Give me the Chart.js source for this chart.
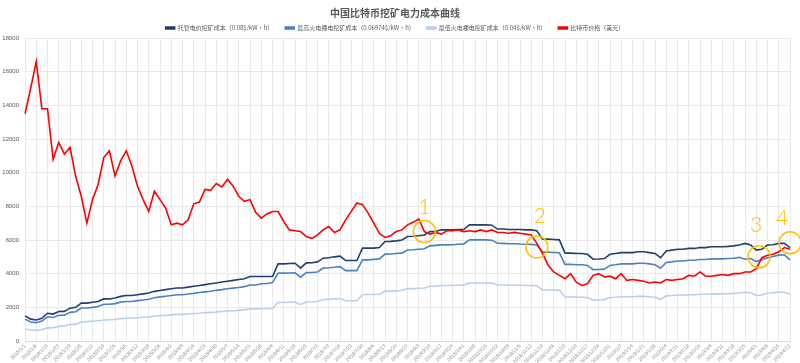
<!DOCTYPE html>
<html>
<head>
<meta charset="utf-8">
<script src="https://cdn.jsdelivr.net/npm/chart.js@4.4.1/dist/chart.umd.min.js"></script>
<style>
  html, body { margin: 0; padding: 0; background: #fff; }
  #wrap { width: 800px; height: 363px; }
</style>
</head>
<body>
<div id="wrap"><canvas id="chart" width="800" height="363"></canvas></div>
<script>
// weekly ticks, two samples per week (Mon / Thu)
const startDate = new Date(2018, 0, 1);
const weekCount = 68;

const seriesNames = [
  "托管电价挖矿成本（0.08$/kW·h）",
  "最高火电裸电挖矿成本（0.06974$/kW·h）",
  "最低火电裸电挖矿成本（0.04$/kW·h）",
  "比特币价格（美元）"
];

const hostedCost = [
  1490, 1300, 1250, 1350, 1650, 1600, 1750, 1760, 1950, 2000,
  2250, 2250, 2300, 2350, 2500, 2500, 2550, 2650, 2700, 2700,
  2750, 2800, 2850, 2950, 3000, 3050, 3100, 3150, 3150, 3200,
  3250, 3300, 3350, 3400, 3450, 3500, 3550, 3600, 3650, 3700,
  3830, 3830, 3830, 3830, 3830, 4580, 4580, 4600, 4620, 4330,
  4640, 4650, 4700, 4920, 4950, 5000, 5040, 4780, 4780, 4780,
  5520, 5520, 5520, 5550, 5910, 5920, 5950, 6000, 6210, 6220,
  6250, 6300, 6500, 6520, 6600, 6600, 6600, 6620, 6620, 6900,
  6900, 6900, 6900, 6880, 6650, 6650, 6620, 6620, 6620, 6600,
  6600, 6550, 6050, 6050, 6030, 6010, 5220, 5220, 5200, 5200,
  5150, 4860, 4870, 4900, 5150, 5200, 5250, 5250, 5250, 5300,
  5300, 5250, 5200, 4950, 5350, 5400, 5450, 5450, 5500, 5500,
  5550, 5550, 5600, 5600, 5600, 5620, 5650, 5700, 5800, 5710,
  5400, 5450, 5700, 5720, 5800, 5810, 5550
];

const highCoalCost = [
  1300, 1130, 1090, 1180, 1440, 1400, 1530, 1530, 1700, 1740,
  1960, 1960, 2000, 2050, 2180, 2180, 2220, 2310, 2350, 2350,
  2400, 2440, 2480, 2570, 2620, 2660, 2700, 2750, 2750, 2790,
  2830, 2880, 2920, 2960, 3010, 3050, 3100, 3140, 3180, 3230,
  3330, 3330, 3400, 3420, 3470, 4030, 4030, 4040, 4050, 3790,
  4060, 4070, 4100, 4330, 4350, 4380, 4420, 4180, 4180, 4180,
  4820, 4820, 4850, 4880, 5160, 5170, 5200, 5220, 5410, 5420,
  5450, 5480, 5650, 5680, 5710, 5710, 5720, 5750, 5770, 6010,
  6010, 6010, 6010, 5990, 5810, 5800, 5780, 5780, 5760, 5750,
  5740, 5700, 5280, 5280, 5260, 5240, 4550, 4550, 4530, 4530,
  4490, 4240, 4250, 4270, 4490, 4530, 4580, 4580, 4580, 4620,
  4620, 4580, 4530, 4320, 4660, 4700, 4750, 4750, 4800, 4800,
  4840, 4840, 4880, 4880, 4880, 4900, 4920, 4970, 4860, 4900,
  4720, 4820, 4950, 5020, 5100, 5120, 4820
];

const lowCoalCost = [
  710, 650, 630, 680, 780, 790, 870, 900, 980, 1000,
  1130, 1150, 1190, 1200, 1250, 1260, 1280, 1330, 1350, 1360,
  1380, 1410, 1430, 1480, 1500, 1520, 1550, 1580, 1580, 1600,
  1630, 1650, 1680, 1700, 1720, 1750, 1780, 1800, 1820, 1850,
  1900, 1910, 1920, 1930, 1940, 2290, 2290, 2300, 2310, 2170,
  2320, 2330, 2350, 2460, 2480, 2500, 2520, 2390, 2390, 2390,
  2760, 2760, 2760, 2780, 2960, 2960, 2980, 3000, 3110, 3110,
  3130, 3150, 3250, 3260, 3300, 3300, 3300, 3310, 3310, 3450,
  3450, 3450, 3450, 3440, 3330, 3330, 3310, 3310, 3310, 3300,
  3300, 3280, 3030, 3030, 3020, 3010, 2610, 2610, 2600, 2600,
  2580, 2430, 2440, 2450, 2580, 2600, 2630, 2630, 2630, 2650,
  2650, 2630, 2600, 2480, 2680, 2700, 2730, 2730, 2750, 2750,
  2780, 2780, 2800, 2800, 2800, 2810, 2830, 2850, 2900, 2860,
  2700, 2730, 2850, 2860, 2900, 2900, 2780
];

const btcPrice = [
  13500, 15000, 16600, 13800, 13800, 10800, 11800, 11100, 11500, 9800,
  8600, 7000, 8400, 9300, 10900, 11300, 9800, 10700, 11300, 10400,
  9200, 8400, 7700, 8900, 8400, 7900, 6900, 7000, 6900, 7200,
  8150, 8250, 9000, 8950, 9350, 9150, 9600, 9200, 8600, 8300,
  8400, 7650, 7300, 7550, 7690, 7690, 7100, 6600, 6550, 6500,
  6200, 6100, 6300, 6600, 6800, 6450, 6600, 7200, 7700, 8200,
  8100, 7600, 7000, 6400, 6150, 6250, 6500, 6600, 6900, 7050,
  7250, 6500, 6350, 6450, 6350, 6550, 6550, 6600, 6500, 6550,
  6500, 6600, 6500, 6600, 6450, 6450, 6400, 6450, 6400, 6350,
  6300, 5800, 5200, 4500, 4100, 3900, 3700, 4000, 3500, 3300,
  3400, 3900, 4000, 3800, 3850, 3700, 4000, 3600, 3650, 3600,
  3550, 3450, 3500, 3450, 3650, 3600, 3650, 3700, 3900, 3850,
  4100, 3850, 3850, 3900, 3950, 3900, 4000, 4000, 4100, 4100,
  4300, 4950, 5100, 5150, 5300, 5550, 5450
];

// highlighted spots: category index, price value, number label and its value
const markIndex = [71, 91, 130.5, 136];
const markValue = [6500, 5590, 5000, 5830];
const markText = ["1", "2", "3", "4"];
const markTextValue = [7970, 7440, 6900, 7320];
const markTextShift = [0, 3, -3, -8];

const fmt = (d) => d.getFullYear() + "/" + (d.getMonth() + 1) + "/" + d.getDate();
const labels = [];
for (let w = 0; w <= weekCount; w++) {
  const mon = new Date(startDate.getTime() + w * 7 * 86400000);
  labels.push(fmt(mon));
  if (w < weekCount) {
    labels.push(fmt(new Date(mon.getTime() + 3 * 86400000)));
  }
}

const colors = ["#1F3F73", "#4A82C0", "#B9D0EA", "#FF0000"];
const values = [hostedCost, highCoalCost, lowCoalCost, btcPrice];

const markPlugin = {
  id: "marks",
  afterDatasetsDraw(chart) {
    const { ctx, scales: { x, y } } = chart;
    ctx.save();
    for (let i = 0; i < markIndex.length; i++) {
      const cx = x.getPixelForValue(markIndex[i]);
      const cy = y.getPixelForValue(markValue[i]);
      ctx.beginPath();
      ctx.ellipse(cx, cy, 11, 11, 0, 0, Math.PI * 2);
      ctx.strokeStyle = "#FFC000";
      ctx.lineWidth = 1.5;
      ctx.stroke();
      ctx.fillStyle = "#FFC000";
      ctx.font = "300 21px Lato, 'Liberation Sans', sans-serif";
      ctx.textAlign = "center";
      ctx.textBaseline = "middle";
      ctx.fillText(markText[i], cx + markTextShift[i], y.getPixelForValue(markTextValue[i]));
    }
    ctx.restore();
  }
};

new Chart(document.getElementById("chart"), {
  type: "line",
  data: {
    labels: labels,
    datasets: values.map((v, i) => ({
      label: seriesNames[i],
      data: v,
      borderColor: colors[i],
      backgroundColor: colors[i],
      borderWidth: 1.6,
      pointRadius: 0,
      tension: 0,
      fill: false,
      order: i === 3 ? 0 : 1
    }))
  },
  options: {
    responsive: false,
    animation: false,
    layout: { padding: { left: 0, right: 10, top: 0, bottom: 0 } },
    plugins: {
      title: {
        display: true,
        text: "中国比特币挖矿电力成本曲线",
        color: "#595959",
        font: { family: "'Noto Sans CJK SC', sans-serif", size: 10, weight: "bold" },
        padding: { top: 7, bottom: -6 }
      },
      legend: {
        position: "top",
        maxHeight: 25,
        labels: {
          boxWidth: 9,
          boxHeight: 2,
          padding: 12,
          color: "#595959",
          font: { family: "'Noto Sans CJK SC', sans-serif", size: 6 },
          sort: (a, b) => a.datasetIndex - b.datasetIndex
        }
      },
      tooltip: { enabled: false }
    },
    scales: {
      x: {
        ticks: {
          autoSkip: false,
          minRotation: 45,
          maxRotation: 45,
          padding: 2,
          color: "#8C8C8C",
          font: { family: "'Liberation Sans', sans-serif", size: 5 },
          callback: function (val, i) { return i % 2 === 0 ? this.getLabelForValue(val) : ""; }
        },
        grid: {
          drawTicks: false,
          color: (c) => (c.index % 2 === 0 ? "#E9E9E9" : "rgba(0,0,0,0)")
        },
        border: { color: "#D9D9D9" },
        afterFit: (s) => { s.height = 22; s.paddingLeft = 0; s.paddingRight = 0; }
      },
      y: {
        min: 0,
        max: 18000,
        ticks: {
          stepSize: 2000,
          padding: 6,
          color: "#595959",
          font: { family: "'Liberation Sans', sans-serif", size: 6 },
          callback: (v) => String(v)
        },
        grid: { drawTicks: false, color: "#E9E9E9" },
        border: { display: false },
        afterFit: (s) => { s.width = 25; }
      }
    }
  },
  plugins: [markPlugin]
});
</script>
</body>
</html>
